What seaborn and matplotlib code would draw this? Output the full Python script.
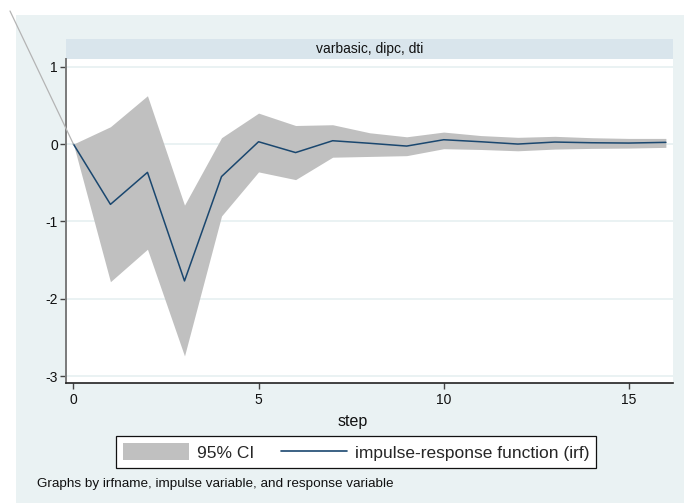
import matplotlib
matplotlib.use("Agg")
import matplotlib.pyplot as plt
from matplotlib.patches import Rectangle, Patch
from matplotlib.lines import Line2D
from matplotlib.patches import ConnectionPatch
import numpy as np
import pandas as pd
import seaborn as sns

# Impulse-response of dti to a dipc shock (varbasic), with 95% CI
steps = list(range(17))
irf = [0.0, -0.78, -0.366, -1.77, -0.42, 0.03, -0.11, 0.043, 0.01, -0.026,
       0.056, 0.03, 0.0, 0.026, 0.017, 0.013, 0.022]
ci_upper = [0.0, 0.224, 0.625, -0.79, 0.082, 0.40, 0.24, 0.25, 0.146, 0.094,
            0.155, 0.11, 0.087, 0.10, 0.082, 0.073, 0.073]
ci_lower = [0.0, -1.78, -1.36, -2.74, -0.93, -0.36, -0.46, -0.17, -0.16, -0.15,
            -0.06, -0.07, -0.087, -0.065, -0.056, -0.052, -0.043]
y_ticks = [1, 0, -1, -2, -3]
x_ticks = [0, 5, 10, 15]
panel_title = "varbasic, dipc, dti"
legend_labels = ["95% CI", "impulse-response function (irf)"]
note_text = "Graphs by irfname, impulse variable, and response variable"

df = pd.DataFrame({"step": steps, "irf": irf, "lower": ci_lower, "upper": ci_upper})

sns.set_style("white")
plt.rcParams["font.family"] = ["Liberation Sans", "DejaVu Sans"]

W, H = 684, 503
fig = plt.figure(figsize=(W / 100, H / 100), dpi=100)
fig.patch.set_facecolor("white")

BG = "#EAF2F3"
STRIP = "#D9E5EC"
NAVY = "#1A476F"
BAND = "#C0C0C0"

def px_rect(x0, y0, x1, y1):
    return [x0 / W, 1 - y1 / H, (x1 - x0) / W, (y1 - y0) / H]

# graph region background
fig.patches.append(Rectangle((16 / W, 0), 1 - 16 / W, 1 - 15 / H,
                             transform=fig.transFigure, facecolor=BG,
                             edgecolor="none", zorder=-10))

# panel title strip
sax = fig.add_axes(px_rect(66, 39, 673.3, 59))
sax.set_facecolor(STRIP)
sax.set_xticks([]); sax.set_yticks([])
for s in sax.spines.values():
    s.set_visible(False)
sax.text(0.5, 0.5, panel_title, ha="center", va="center", fontsize=10,
         color="#111111", transform=sax.transAxes)

ax = fig.add_axes(px_rect(66, 59, 673.3, 383))
ax.set_facecolor("white")

ax.fill_between(df["step"], df["lower"], df["upper"], color=BAND, lw=0, zorder=2)
sns.lineplot(data=df, x="step", y="irf", ax=ax, color=NAVY, lw=1.1, zorder=3)

ax.set_xlim(-0.2, 16.2)
ax.set_ylim(-3.09, 1.10)
ax.set_xticks(x_ticks)
ax.set_yticks(y_ticks)
ax.set_yticklabels([str(t) for t in y_ticks])
ax.yaxis.grid(True, color=BG, lw=1.4, zorder=0)
ax.xaxis.grid(False)
ax.set_axisbelow(True)

for side in ("top", "right"):
    ax.spines[side].set_visible(False)
ax.spines["left"].set_color("#7A7A7A")
ax.spines["left"].set_linewidth(1.4)
ax.spines["bottom"].set_color("#222222")
ax.spines["bottom"].set_linewidth(1.2)

ax.tick_params(axis="y", length=4, width=1, color="#444444", pad=1.8,
               labelsize=10, labelcolor="#111111", left=True)
ax.tick_params(axis="x", length=4, width=1, color="#444444", pad=3.5,
               labelsize=10, labelcolor="#111111", bottom=True)

ax.set_ylabel("")
ax.set_xlabel("step", fontsize=11.5, color="#111111")
ax.xaxis.set_label_coords((353 - 66) / 607.3, (383 - 421.7) / 324)
ax.xaxis.label.set_va("center")

# thin stray connector running up to the graph corner
con = ConnectionPatch(xyA=(10 / W, 1 - 11 / H), coordsA=fig.transFigure,
                      xyB=(steps[0], irf[0]), coordsB=ax.transData,
                      color="#B4B4B4", lw=0.9, zorder=5)
fig.add_artist(con)

handles = [Patch(facecolor=BAND, edgecolor="none"),
           Line2D([0], [0], color=NAVY, lw=1.2)]
leg = fig.legend(handles, legend_labels, loc="center",
                 bbox_to_anchor=(356 / W, 1 - 452 / H), ncol=2,
                 fontsize=12.5, frameon=True, fancybox=False, shadow=False,
                 handlelength=3.8, handleheight=1.1, handletextpad=0.46,
                 columnspacing=1.55, borderpad=0.4)
frame = leg.get_frame()
frame.set_edgecolor("#111111")
frame.set_linewidth(0.9)
frame.set_facecolor("white")
frame.set_alpha(1)

fig.text(37 / W, 1 - 484.5 / H, note_text, ha="left", va="center",
         fontsize=9.7, color="#111111")

fig.savefig("out.png", dpi=100, facecolor=fig.get_facecolor())
